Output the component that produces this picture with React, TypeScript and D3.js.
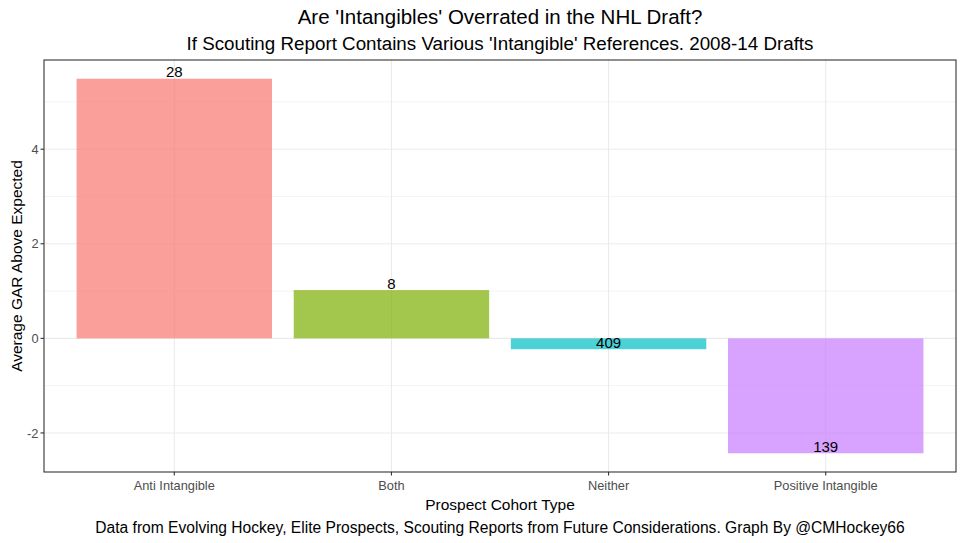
import React from "react";
import * as d3 from "d3";

const categories = ["Anti Intangible", "Both", "Neither", "Positive Intangible"];
const values = [5.49, 1.02, -0.23, -2.43];
const counts = ["28", "8", "409", "139"];
const colors = ["#F8766D", "#7CAE00", "#00BFC4", "#C77CFF"];
const yMajor = [-2, 0, 2, 4];
const yMinor = [-1, 1, 3, 5];

const W = 964, H = 543;
const M = { left: 44, right: 956, top: 60, bottom: 472 };
const FONT = "'Liberation Sans', Arial, sans-serif";

export default function App() {
  // ggplot discrete expansion: 0.6 units on each side, bar width 0.9
  const x = d3
    .scaleBand<string>()
    .domain(categories)
    .range([M.left, M.right])
    .paddingInner(0)
    .paddingOuter(0.1);
  const unit = x.bandwidth();
  const cx = (c: string) => (x(c) as number) + unit / 2;
  const barW = unit * 0.9;
  const lo = d3.min(values)!, hi = d3.max(values)!;
  const span = Math.max(hi, 0) - Math.min(lo, 0);
  const y = d3
    .scaleLinear()
    .domain([Math.min(lo, 0) - span * 0.05, Math.max(hi, 0) + span * 0.05])
    .range([M.bottom, M.top]);
  const midX = (M.left + M.right) / 2;
  const midY = (M.top + M.bottom) / 2;
  return (
    <svg width={W} height={H} style={{ position: "absolute", left: 0, top: 0, background: "#fff" }} fontFamily={FONT}>
      <rect x={0} y={0} width={W} height={H} fill="#fff" />
      <text x={midX} y={24} textAnchor="middle" fontSize={20.5} fill="#000">Are 'Intangibles' Overrated in the NHL Draft?</text>
      <text x={midX} y={50} textAnchor="middle" fontSize={18.8} fill="#000">If Scouting Report Contains Various 'Intangible' References. 2008-14 Drafts</text>
      {yMinor.map((v) => (
        <line key={"mi" + v} x1={M.left} x2={M.right} y1={y(v)} y2={y(v)} stroke="#EBEBEB" strokeWidth={0.6} />
      ))}
      {yMajor.map((v) => (
        <line key={"ma" + v} x1={M.left} x2={M.right} y1={y(v)} y2={y(v)} stroke="#EBEBEB" strokeWidth={1.1} />
      ))}
      {categories.map((c) => (
        <line key={"vx" + c} x1={cx(c)} x2={cx(c)} y1={M.top} y2={M.bottom} stroke="#EBEBEB" strokeWidth={1.1} />
      ))}
      {categories.map((c, i) => {
        const v = values[i];
        return (
          <rect key={"b" + c} x={cx(c) - barW / 2} width={barW} y={y(Math.max(v, 0))} height={Math.abs(y(v) - y(0))} fill={colors[i]} fillOpacity={0.7} />
        );
      })}
      {categories.map((c, i) => (
        <text key={"l" + c} x={cx(c)} y={y(values[i]) - 1.5} textAnchor="middle" fontSize={15} fill="#000">{counts[i]}</text>
      ))}
      <rect x={M.left} y={M.top} width={M.right - M.left} height={M.bottom - M.top} fill="none" stroke="#333333" strokeWidth={1.1} />
      {yMajor.map((v) => (
        <g key={"yt" + v}>
          <line x1={M.left - 3.5} x2={M.left} y1={y(v)} y2={y(v)} stroke="#333333" strokeWidth={1.1} />
          <text x={M.left - 5.5} y={y(v)} dy="0.36em" textAnchor="end" fontSize={12.8} fill="#4D4D4D">{v}</text>
        </g>
      ))}
      {categories.map((c) => (
        <g key={"xt" + c}>
          <line x1={cx(c)} x2={cx(c)} y1={M.bottom} y2={M.bottom + 3.5} stroke="#333333" strokeWidth={1.1} />
          <text x={cx(c)} y={489.5} textAnchor="middle" fontSize={12.8} fill="#4D4D4D">{c}</text>
        </g>
      ))}
      <text x={midX} y={509.5} textAnchor="middle" fontSize={15.5} fill="#000">Prospect Cohort Type</text>
      <text x={21.5} y={midY} transform={`rotate(-90, 21.5, ${midY})`} textAnchor="middle" fontSize={15.5} fill="#000">Average GAR Above Expected</text>
      <text x={midX} y={533} textAnchor="middle" fontSize={15.6} fill="#000">Data from Evolving Hockey, Elite Prospects, Scouting Reports from Future Considerations. Graph By @CMHockey66</text>
    </svg>
  );
}
